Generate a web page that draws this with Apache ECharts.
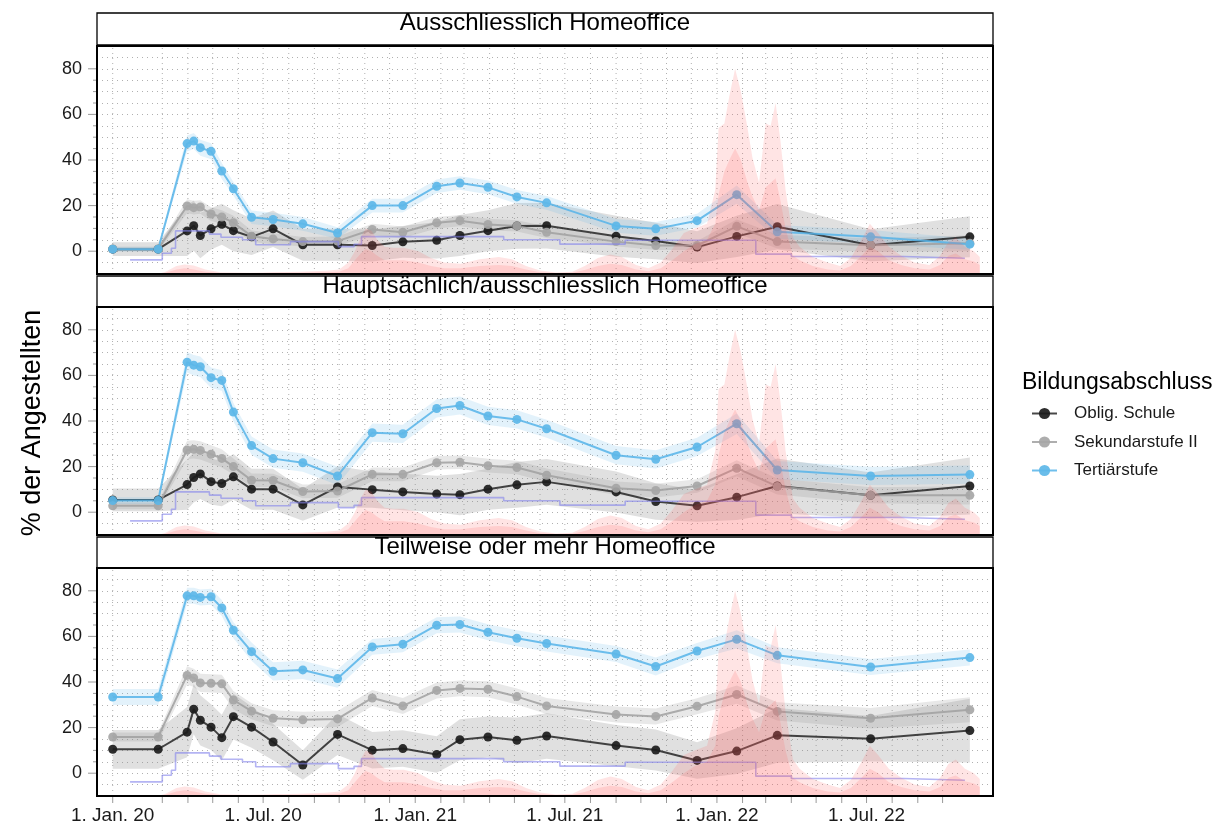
<!DOCTYPE html>
<html><head><meta charset="utf-8">
<script src="https://cdn.jsdelivr.net/npm/echarts@6/dist/echarts.min.js"></script>
<style>html,body{margin:0;padding:0;background:#fff}#c{width:1221px;height:829px}</style>
</head><body><div id="c"></div>
<script>
// ---------- DATA ----------
const surveyDates = ['2020-01-01','2020-02-25','2020-03-31','2020-04-08','2020-04-16','2020-04-29','2020-05-12','2020-05-26','2020-06-17','2020-07-13','2020-08-18','2020-09-29','2020-11-10','2020-12-17','2021-01-27','2021-02-24','2021-03-30','2021-05-04','2021-06-09','2021-09-01','2021-10-19','2021-12-08','2022-01-25','2022-03-15','2022-07-06','2022-11-03'];

const panelTitles = ['Ausschliesslich Homeoffice','Hauptsächlich/ausschliesslich Homeoffice','Teilweise oder mehr Homeoffice'];
const groupNames = ['Oblig. Schule','Sekundarstufe II','Tertiärstufe'];

// Panel 1: Ausschliesslich Homeoffice
const p1Black   = [0.9,0.9,8.9,11.2,6.9,9.8,11.8,9.0,6.3,9.8,2.8,2.8,2.5,4.1,4.8,6.9,9.0,11.1,11.2,6.6,4.5,1.8,6.5,10.7,2.6,6.3];
const p1BlackCI = [3,3,11,11,10,9,9,9,8,8,7,7,7,7,8,9,9,10,10,9,8,7,9,10,7,9];
const p1Grey    = [1.0,1.0,19.8,19.1,19.4,16.3,15.0,12.5,6.6,5.4,4.2,4.4,9.5,8.3,12.5,13.4,11.7,11.1,8.3,4.2,2.5,2.5,10.9,4.2,2.6,3.5];
const p1GreyCI  = [1,1,3,3,3,3,3,3,2.5,2.5,2,2,2.5,2.5,2.5,2.5,2.5,2.5,2.5,2,2,2,3,3,3,3.5];
const p1Blue    = [0.9,0.9,47.2,48.3,45.4,43.8,35.2,27.4,14.9,13.9,12.0,8.0,20.0,20.0,28.5,29.9,28.0,23.8,21.2,11.1,9.8,13.4,24.8,8.5,6.3,3.1];
const p1BlueCI  = [1,1,3.5,3.5,3.5,3.5,3.5,3,3,3,3,2.5,3,3,3,3,3,3,3,3,3,3,4,3,3,2.5];

// Panel 2: Hauptsächlich/ausschliesslich Homeoffice
const p2Black   = [5.4,5.4,12.1,15.2,16.8,13.4,12.6,15.5,10.1,10.1,3.2,11.1,9.9,8.9,8.0,7.7,10.1,12.0,13.3,8.9,4.7,2.8,6.6,11.5,7.4,11.5];
const p2BlackCI = [5,5,11,11,11,10,10,10,9,9,7,9,8,8,8,9,9,10,10,9,8,7,10,12,10,12.5];
const p2Grey    = [2.8,2.8,27.3,27.6,27.1,25.4,23.6,20.0,14.0,13.9,9.1,9.3,16.6,16.6,21.7,21.9,20.4,19.6,16.2,10.5,9.5,11.5,19.3,11.3,7.4,7.4];
const p2GreyCI  = [1.5,1.5,4,4,4,4,4,3.5,3,3,3,3,3,3,3,3,3,3,3,3,3,3,3.5,3.5,3.5,4];
const p2Blue    = [5.1,5.1,65.8,64.5,63.8,59.0,57.8,43.9,29.2,23.5,21.7,15.9,34.9,34.4,45.5,46.8,42.2,40.7,36.6,25.0,23.2,28.6,38.8,18.5,15.9,16.5];
const p2BlueCI  = [1.5,1.5,4.5,4.5,4.5,4.5,4.5,4,4,4,4,4,4,4,4,4,4,4,4,4,4,4,4.5,4,4,4];

// Panel 3: Teilweise oder mehr Homeoffice
const p3Black   = [10.5,10.5,18.0,28.1,23.2,20.2,15.6,24.8,20.2,13.7,3.6,17.0,10.1,10.8,8.2,14.7,15.9,14.4,16.3,12.1,10.2,5.6,9.7,16.6,15.1,18.7];
const p3BlackCI = [8.5,8.5,11,11,11,10,10,10,9,8,6.5,9,8,8,8,9,9,10,10,9,9,8,10,12,10,14];
const p3Grey    = [15.9,15.9,42.9,41.8,39.6,39.4,39.2,32.1,27.2,24.1,23.4,23.8,33.0,29.5,36.3,37.2,36.8,33.6,29.5,25.7,24.9,29.4,34.5,27.1,24.1,27.8];
const p3GreyCI  = [2,2,4,4,4,4,4,4,3.5,3.5,3.5,3.5,3.5,3.5,3.5,3.5,3.5,3.5,3.5,3.5,3.5,3.5,4,4,4.5,5.5];
const p3Blue    = [33.4,33.4,77.8,77.8,77.1,77.4,72.5,62.7,53.3,44.7,45.3,41.5,55.4,56.6,64.9,65.2,61.8,59.2,56.9,52.3,46.8,53.6,58.7,51.7,46.6,50.7];
const p3BlueCI  = [3.5,3.5,3.5,3.5,3.5,3.5,3.5,3.5,4,4,4,4,3.5,3.5,3.5,3.5,3.5,3.5,3.5,3.5,4,3.5,4,3.5,3.5,3.5];

// Background: policy stringency (step line, chart units)
const stringencyDates  = ['2020-01-22','2020-02-24','2020-03-01','2020-03-12','2020-03-17','2020-04-27','2020-05-11','2020-06-06','2020-06-22','2020-08-03','2020-09-30','2020-10-19','2020-10-28','2021-04-18','2021-06-25','2021-09-12','2022-02-17','2022-04-01','2022-08-15','2022-10-28'];
const stringencyValues = [-3.8,-3.8,-0.9,1.3,8.9,7.5,6.1,5.0,2.8,4.2,2.0,3.0,6.4,5.0,3.1,4.8,-1.3,-2.3,-3.1,-3.1];

// Background: daily cases (weekly highs / lows, chart units above -10 baseline)
const caseDates = ['2020-02-24','2020-03-05','2020-03-18','2020-03-28','2020-04-08','2020-04-22','2020-05-10','2020-06-15','2020-07-15','2020-08-15','2020-09-15','2020-10-01','2020-10-12','2020-10-20','2020-10-27','2020-11-02','2020-11-09','2020-11-16','2020-11-25','2020-12-05','2020-12-18','2021-01-05','2021-01-20','2021-02-05','2021-02-25','2021-03-20','2021-04-12','2021-04-28','2021-05-15','2021-06-01','2021-06-20','2021-07-10','2021-07-25','2021-08-10','2021-08-25','2021-09-08','2021-09-25','2021-10-10','2021-10-25','2021-11-08','2021-11-22','2021-12-05','2021-12-20','2021-12-30','2022-01-03','2022-01-10','2022-01-16','2022-01-23','2022-01-30','2022-02-07','2022-02-13','2022-02-21','2022-03-01','2022-03-07','2022-03-13','2022-03-19','2022-03-25','2022-04-03','2022-04-11','2022-04-27','2022-05-15','2022-05-30','2022-06-12','2022-06-25','2022-07-05','2022-07-15','2022-07-28','2022-08-12','2022-08-28','2022-09-15','2022-09-28','2022-10-08','2022-10-17','2022-10-28','2022-11-08','2022-11-15'];
const caseHigh = [-10,-9,-6.5,-5.8,-6.3,-8,-9.2,-9.5,-9.2,-9,-8.6,-8,-5,0,6,10,9,5,2,1.5,1.5,0,-3,-5,-5.5,-3.5,-2.5,-3.5,-6.5,-8.5,-9.3,-9,-6.5,-3,-1.5,-2.5,-6,-7.5,-5,1,8,10,12,27,54,56,68,80,70,54,41,30,56,55,65,48,27,6,2,-2.5,-5,-6.5,-3,5,12,8,2,-2,-5,-6,-2,4,6,2,0,-2.5];
const caseLow  = [-10,-9.5,-8,-7.5,-8,-9,-9.6,-9.7,-9.5,-9.4,-9.2,-9,-7.5,-4,-1,1,0,-2,-4,-4,-4,-5,-6.5,-7.5,-7.5,-6.5,-6,-6.5,-8,-9.2,-9.6,-9.5,-8.3,-6.5,-5.5,-6,-8,-8.8,-7.5,-4,0,3,5,12,25,35,40,45,40,30,24,18,28,30,32,22,10,-2,-4,-6.5,-8,-8.5,-6.5,-2,2,0,-4,-6,-7.5,-8,-6,-2,-1,-3.5,-4.5,-6];

// Axis ticks
const yLabelValues = [0,20,40,60,80];
const yMinorValues = [5,10,15,25,30,35,45,50,55,65,70,75];
const xTickDates = ['2020-01-01','2020-03-01','2020-04-01','2020-05-01','2020-06-01','2020-07-01','2020-08-01','2020-09-01','2020-10-01','2020-11-01','2020-12-01','2021-01-01','2021-02-01','2021-03-01','2021-04-01','2021-05-01','2021-06-01','2021-07-01','2021-08-01','2021-09-01','2021-10-01','2021-11-01','2021-12-01','2022-01-01','2022-02-01','2022-03-01','2022-04-01','2022-05-01','2022-06-01','2022-07-01','2022-08-01','2022-09-01','2022-10-01'];
const xLabelDates = ['2020-01-01','2020-07-01','2021-01-01','2021-07-01','2022-01-01','2022-07-01'];
const xLabelTexts = ['1. Jan. 20','1. Jul. 20','1. Jan. 21','1. Jul. 21','1. Jan. 22','1. Jul. 22'];

// ---------- CHART ----------
const T = s => { const p = s.split('-').map(Number); return new Date(p[0], p[1]-1, p[2]).getTime(); };
const FONT = '"Liberation Sans", Arial, Helvetica, sans-serif';
const L = 97, W = 896, PH = 228;
const X_MIN = T('2019-12-13'), X_MAX = T('2022-12-01');
const panelTops = [46, 307, 568];
const stripTops = [13, 276, 537];
const stripH = [32, 31, 31];

const panels = [
  {vals:[p1Black,p1Grey,p1Blue], cis:[p1BlackCI,p1GreyCI,p1BlueCI]},
  {vals:[p2Black,p2Grey,p2Blue], cis:[p2BlackCI,p2GreyCI,p2BlueCI]},
  {vals:[p3Black,p3Grey,p3Blue], cis:[p3BlackCI,p3GreyCI,p3BlueCI]}
];
const lineColors  = ['rgba(20,20,20,0.78)','rgba(160,160,160,0.85)','rgba(86,180,233,0.85)'];
const pointColors = ['#1c1c1c','#a6a6a6','#5db7e8'];
const ribbonColors = ['rgba(140,140,140,0.27)','rgba(140,140,140,0.20)','rgba(86,180,233,0.17)'];

function yTickSeries(i, values, len) {
  return {
    type: 'custom', xAxisIndex: i, yAxisIndex: i, z: 6, silent: true, clip: false,
    data: values.map(v => [X_MIN, v]),
    renderItem: function (params, api) {
      const p = api.coord([X_MIN, values[params.dataIndex]]);
      return {type: 'line', shape: {x1: p[0] - len, y1: p[1], x2: p[0], y2: p[1]}, style: {stroke: '#9a9a9a', lineWidth: 1}};
    }
  };
}

const grids = [], xAxes = [], yAxes = [], series = [];
for (let i = 0; i < 3; i++) {
  grids.push({left: L, top: panelTops[i], width: W, height: PH, containLabel: false});
  xAxes.push({
    type: 'time', gridIndex: i, min: X_MIN, max: X_MAX,
    axisLine: {show: false}, splitLine: {show: false},
    axisTick: {show: false}, axisLabel: {show: false}
  });
  yAxes.push({
    type: 'value', gridIndex: i, min: -10, max: 90, interval: 5,
    axisLine: {show: false},
    axisTick: {show: false},
    axisLabel: {show: true, formatter: v => (yLabelValues.indexOf(v) >= 0 ? String(v) : ''), fontSize: 18, color: '#1a1a1a', fontFamily: FONT, margin: 15},
    splitLine: {show: true, lineStyle: {color: '#b0b0b0', type: [1, 4], width: 1}}
  });

  series.push(yTickSeries(i, yLabelValues, 9));
  series.push(yTickSeries(i, yMinorValues, 4));

  // vertical dotted grid lines
  series.push({
    type: 'custom', xAxisIndex: i, yAxisIndex: i, z: 0, silent: true,
    data: xTickDates.map(d => [d, -10]),
    renderItem: function (params, api) {
      const t = T(xTickDates[params.dataIndex]);
      const a = api.coord([t, -10]), b = api.coord([t, 90]);
      return {type: 'line', shape: {x1: a[0], y1: a[1], x2: b[0], y2: b[1]}, style: {stroke: '#b0b0b0', lineWidth: 1, lineDash: [1, 4]}};
    }
  });

  // ribbons
  for (let g = 0; g < 3; g++) {
    const vals = panels[i].vals[g], cis = panels[i].cis[g];
    const lower = vals.map((v,k) => v - cis[k]);
    const upper = vals.map((v,k) => v + cis[k]);
    const col = ribbonColors[g];
    series.push({
      type: 'custom', xAxisIndex: i, yAxisIndex: i, z: 1, silent: true,
      data: surveyDates.map((d,k) => [d, lower[k], upper[k]]),
      encode: {x: 0, y: [1, 2]},
      renderItem: function (params, api) {
        if (params.dataIndex !== 0) return null;
        const pts = [];
        for (let k = 0; k < surveyDates.length; k++) pts.push(api.coord([T(surveyDates[k]), upper[k]]));
        for (let k = surveyDates.length - 1; k >= 0; k--) pts.push(api.coord([T(surveyDates[k]), lower[k]]));
        return {type: 'polygon', shape: {points: pts}, style: {fill: col}};
      }
    });
  }

  // lines + points
  for (let g = 0; g < 3; g++) {
    const vals = panels[i].vals[g];
    series.push({
      type: 'line', name: groupNames[g], xAxisIndex: i, yAxisIndex: i, z: 3,
      data: surveyDates.map((d,k) => [d, vals[k]]),
      symbol: 'circle', symbolSize: 9, showSymbol: true,
      lineStyle: {color: lineColors[g], width: 2},
      itemStyle: {color: pointColors[g], opacity: 0.92},
      emphasis: {disabled: true}
    });
  }

  // stringency step line
  series.push({
    type: 'line', xAxisIndex: i, yAxisIndex: i, z: 4, silent: true, step: 'end',
    data: stringencyDates.map((d,k) => [d, stringencyValues[k]]),
    showSymbol: false, symbol: 'none',
    lineStyle: {color: 'rgba(130,130,235,0.6)', width: 1.6}
  });

  // case area (highs, lows)
  [caseHigh, caseLow].forEach(arr => {
    series.push({
      type: 'line', xAxisIndex: i, yAxisIndex: i, z: 5, silent: true,
      data: caseDates.map((d,k) => [d, arr[k]]),
      showSymbol: false, symbol: 'none',
      lineStyle: {width: 0, color: 'rgba(255,100,100,0)'},
      areaStyle: {origin: 'start', color: 'rgba(255,95,95,0.24)'}
    });
  });
}

// bottom x ticks and labels (drawn via the bottom panel's scales)
series.push({
  type: 'custom', xAxisIndex: 2, yAxisIndex: 2, z: 6, silent: true, clip: false,
  data: xTickDates.map(d => [d, -10]),
  renderItem: function (params, api) {
    const p = api.coord([T(xTickDates[params.dataIndex]), -10]);
    return {type: 'line', shape: {x1: p[0], y1: p[1] + 1, x2: p[0], y2: p[1] + 7}, style: {stroke: '#9a9a9a', lineWidth: 1}};
  }
});
series.push({
  type: 'custom', xAxisIndex: 2, yAxisIndex: 2, z: 6, silent: true, clip: false,
  data: xLabelDates.map(d => [d, -10]),
  renderItem: function (params, api) {
    const p = api.coord([T(xLabelDates[params.dataIndex]), -10]);
    return {type: 'text', x: p[0], y: p[1] + 20, style: {text: xLabelTexts[params.dataIndex], font: '19px ' + FONT, fill: '#1a1a1a', textAlign: 'center', textVerticalAlign: 'middle'}};
  }
});

const graphics = [];
for (let i = 0; i < 3; i++) {
  graphics.push({type: 'rect', z: 100, shape: {x: L, y: stripTops[i], width: W, height: stripH[i]}, style: {fill: '#fff', stroke: '#000', lineWidth: 1.3}});
  graphics.push({type: 'text', z: 101, x: L + W/2, y: stripTops[i] + 10, style: {text: panelTitles[i], font: '24px ' + FONT, fill: '#000', textAlign: 'center', textVerticalAlign: 'middle'}});
  graphics.push({type: 'rect', z: 100, shape: {x: L, y: panelTops[i], width: W, height: PH}, style: {fill: 'none', stroke: '#000', lineWidth: 2}});
}
graphics.push({type: 'text', z: 101, x: 33, y: 423, rotation: Math.PI/2, style: {text: '% der Angestellten', font: '27px ' + FONT, fill: '#000', textAlign: 'center', textVerticalAlign: 'middle'}});
graphics.push({type: 'text', z: 101, x: 1022, y: 383, style: {text: 'Bildungsabschluss', font: '23px ' + FONT, fill: '#000', textAlign: 'left', textVerticalAlign: 'middle'}});

const chart = echarts.init(document.getElementById('c'), null, {renderer: 'canvas'});
chart.setOption({
  animation: false,
  backgroundColor: '#fff',
  textStyle: {fontFamily: FONT},
  grid: grids, xAxis: xAxes, yAxis: yAxes, series: series,
  legend: {
    data: groupNames, orient: 'vertical', left: 1026, top: 400,
    itemWidth: 25, itemHeight: 14, itemGap: 11.5,
    textStyle: {fontSize: 17, color: '#1a1a1a', fontFamily: FONT, padding: [0, 0, 0, 12]},
    selectedMode: false
  },
  graphic: graphics
});
</script>
</body></html>
